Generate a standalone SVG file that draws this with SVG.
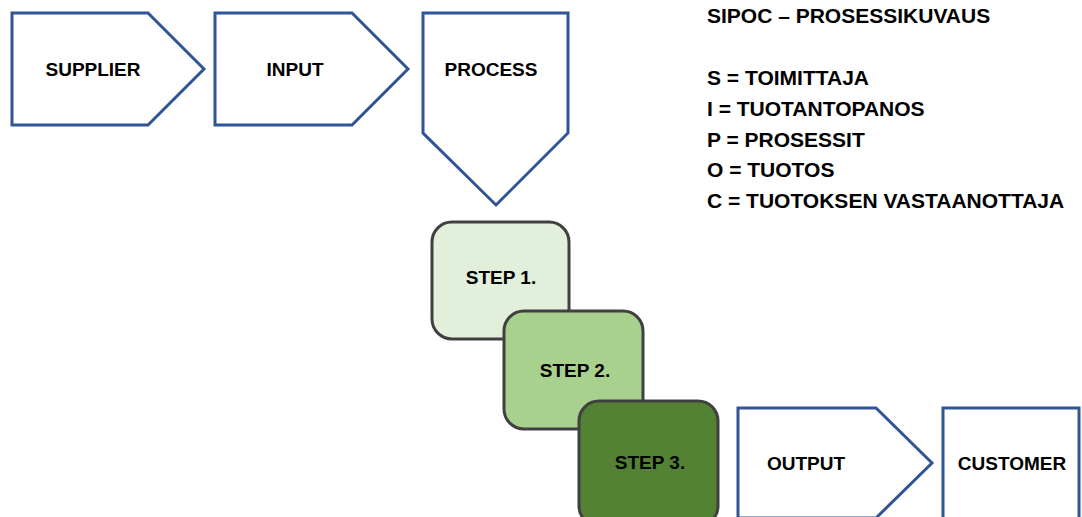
<svg xmlns="http://www.w3.org/2000/svg" width="1082" height="517" viewBox="0 0 1082 517">
<style>
.sh{fill:#fff;stroke:#2F5597;stroke-width:3;stroke-linejoin:miter}
.st{stroke:#404040;stroke-width:3}
.t{font-family:"Liberation Sans",Arial,sans-serif;font-weight:bold;font-size:19px;fill:#000;text-anchor:middle}
.k{font-family:"Liberation Sans",Arial,sans-serif;font-weight:bold;font-size:21px;fill:#000}
</style>
<rect width="1082" height="517" fill="#fff"/>
<g id="supplier"><polygon class="sh" points="12,13 148,13 204,69 148,125 12,125"/><text class="t" x="93" y="76">SUPPLIER</text></g>
<g id="input"><polygon class="sh" points="215,13 352,13 408,69 352,125 215,125"/><text class="t" x="295" y="76">INPUT</text></g>
<g id="process"><polygon class="sh" points="423,13 568,13 568,133 496,205 423,133"/><text class="t" x="491" y="76">PROCESS</text></g>
<g id="step1"><rect class="st" x="432" y="222" width="137" height="117" rx="20" fill="#E2EFDA"/><text class="t" x="501" y="284">STEP 1.</text></g>
<g id="step2"><rect class="st" x="504" y="311" width="139" height="118" rx="20" fill="#A9D18E"/><text class="t" x="575" y="377">STEP 2.</text></g>
<g id="step3"><rect class="st" x="579" y="401" width="139" height="125" rx="20" fill="#548235"/><text class="t" x="650" y="469">STEP 3.</text></g>
<g id="output"><polygon class="sh" points="738,408 876,408 932,463 876,518 738,518"/><text class="t" x="806" y="470">OUTPUT</text></g>
<g id="customer"><rect class="sh" x="943" y="408" width="136" height="112"/><text class="t" x="1012" y="470">CUSTOMER</text></g>
<g id="connectors"></g>
<g id="legend">
<text class="k" x="707" y="23">SIPOC – PROSESSIKUVAUS</text>
<text class="k" x="707" y="85">S = TOIMITTAJA</text>
<text class="k" x="707" y="116">I = TUOTANTOPANOS</text>
<text class="k" x="707" y="147">P = PROSESSIT</text>
<text class="k" x="707" y="177">O = TUOTOS</text>
<text class="k" x="707" y="208">C = TUOTOKSEN VASTAANOTTAJA</text>
</g>
</svg>
